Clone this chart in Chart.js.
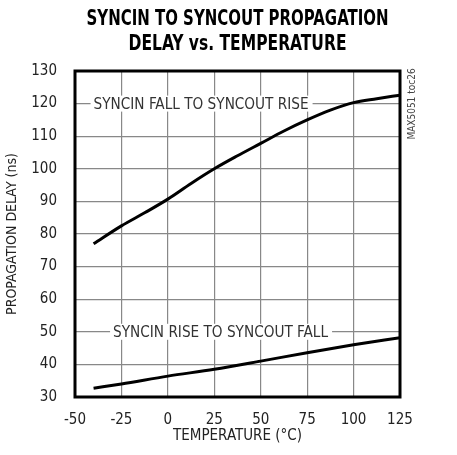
<!DOCTYPE html>
<html>
<head>
<meta charset="utf-8">
<script src="https://cdn.jsdelivr.net/npm/chart.js@4/dist/chart.umd.min.js"></script>
<style>
  html, body { margin: 0; padding: 0; background: #fff; }
  #wrap { width: 457px; height: 455px; }
</style>
</head>
<body>
<div id="wrap"><canvas id="myChart" width="457" height="455"></canvas></div>
<script>
// values
var tempFall = [-40, -25, -12.5, 0, 12.5, 25, 37.5, 50, 62.5, 75, 87.5, 100, 112.5, 125];
var delayFall = [77, 82.5, 86.5, 90.7, 95.5, 100, 104, 107.8, 111.6, 115, 118, 120.3, 121.5, 122.6];
var tempRise = [-40, -25, 0, 25, 50, 75, 100, 125];
var delayRise = [32.7, 34, 36.4, 38.5, 41, 43.6, 46, 48.2];
var xTicks = [-50, -25, 0, 25, 50, 75, 100, 125];
var yTicks = [30, 40, 50, 60, 70, 80, 90, 100, 110, 120, 130];

var titleLines = ['SYNCIN TO SYNCOUT PROPAGATION', 'DELAY vs. TEMPERATURE'];
var curveLabels = [
    { text: 'SYNCIN FALL TO SYNCOUT RISE', x: -40, y: 120 },
    { text: 'SYNCIN RISE TO SYNCOUT FALL', x: -29.5, y: 50 }
];

var narrow = "'DejaVu Sans Condensed', 'Liberation Sans', sans-serif";

function toPoints(xs, ys) {
    var pts = [];
    for (let i = 0; i < xs.length; i++) {
        pts.push({ x: xs[i], y: ys[i] });
    }
    return pts;
}

// draws text squeezed sideways so it is the given width (the original uses a condensed face)
function squeezed(ctx, text, x, y, width, align) {
    var w = ctx.measureText(text).width;
    var k = width / w;
    ctx.save();
    ctx.translate(x, y);
    ctx.scale(k, 1);
    ctx.textAlign = align;
    ctx.fillText(text, 0, 0);
    ctx.restore();
}

const extras = {
    id: 'extras',
    beforeDatasetsDraw(chart) {          // labels sitting on grid lines
        const ctx = chart.ctx;
        const xs = chart.scales.x, ys = chart.scales.y;
        ctx.save();
        ctx.font = '16px ' + narrow;
        ctx.textBaseline = 'middle';
        curveLabels.forEach(function (l) {
            var px = xs.getPixelForValue(l.x);
            var py = ys.getPixelForValue(l.y);
            ctx.fillStyle = '#fff';
            ctx.fillRect(px - 3, py - 8, 222, 16);
            ctx.fillStyle = '#333';
            squeezed(ctx, l.text, px, py + 1, 215, 'left');
        });
        ctx.restore();
    },
    afterDraw(chart) {
        const ctx = chart.ctx;
        const a = chart.chartArea;
        ctx.save();
        // frame round the plot
        ctx.strokeStyle = '#000';
        ctx.lineWidth = 3;
        ctx.strokeRect(a.left, a.top, a.right - a.left, a.bottom - a.top);

        // title
        var cx = (a.left + a.right) / 2;
        ctx.fillStyle = '#000';
        ctx.textBaseline = 'middle';
        ctx.font = 'bold 21px ' + narrow;
        squeezed(ctx, titleLines[0], cx, 20, 302, 'center');
        squeezed(ctx, titleLines[1], cx, 45, 218, 'center');

        // figure code on the right
        ctx.translate(a.right + 12, a.top + 33);
        ctx.rotate(-Math.PI / 2);
        ctx.font = '10px ' + narrow;
        ctx.fillStyle = '#444';
        ctx.textAlign = 'center';
        ctx.fillText('MAX5051 toc26', 0, 0);
        ctx.restore();
    }
};

let myChart = document.getElementById("myChart").getContext('2d');

const lineChart = new Chart(myChart, {
    type: "line",
    data: {
        datasets: [{
            label: 'fall to rise',
            data: toPoints(tempFall, delayFall),
            borderColor: "#000",
            borderWidth: 3,
            pointRadius: 0,
            cubicInterpolationMode: 'monotone',
            fill: false
        }, {
            label: 'rise to fall',
            data: toPoints(tempRise, delayRise),
            borderColor: "#000",
            borderWidth: 3,
            pointRadius: 0,
            cubicInterpolationMode: 'monotone',
            fill: false
        }]
    },
    options: {
        responsive: false,
        animation: false,
        layout: { padding: { top: 71, right: 57, bottom: 0, left: 0 } },
        scales: {
            x: {
                type: 'linear',
                min: -50,
                max: 125,
                afterFit: function (s) { s.height = 58; },
                afterBuildTicks: function (s) { s.ticks = xTicks.map(v => ({ value: v })); },
                grid: { color: '#888', lineWidth: 1.2, drawTicks: false },
                border: { display: false },
                ticks: { color: '#222', padding: 14, font: { family: narrow, size: 15 } },
                title: {
                    display: true,
                    text: 'TEMPERATURE (°C)',
                    color: '#222',
                    padding: { top: 0, bottom: 10 },
                    font: { family: narrow, size: 15 }
                }
            },
            y: {
                min: 30,
                max: 130,
                afterFit: function (s) { s.width = 75; },
                afterBuildTicks: function (s) { s.ticks = yTicks.map(v => ({ value: v })); },
                grid: { color: '#888', lineWidth: 1.2, drawTicks: false },
                border: { display: false },
                ticks: { color: '#222', padding: 18, font: { family: narrow, size: 15 } },
                title: {
                    display: true,
                    text: 'PROPAGATION DELAY (ns)',
                    color: '#222',
                    padding: { top: 4, bottom: 0 },
                    font: { family: narrow, size: 14 }
                }
            }
        },
        plugins: {
            legend: { display: false },
            tooltip: { enabled: false }
        }
    },
    plugins: [extras]
});
</script>
</body>
</html>
